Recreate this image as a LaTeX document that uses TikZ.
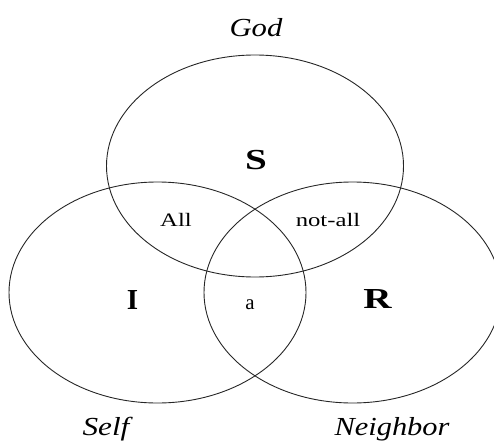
\documentclass[tikz,border=0pt]{standalone}
\usepackage{fontspec}
\setmainfont{Liberation Serif}
\begin{document}
\begin{tikzpicture}[x=1pt,y=-1pt,
  ring/.style={draw=black!85,line width=0.9pt},
  titlelbl/.style={anchor=base,inner sep=0pt,font=\fontsize{26}{28}\selectfont\itshape},
  biglbl/.style={anchor=base,inner sep=0pt,font=\fontsize{29}{31}\selectfont\bfseries},
  smalllbl/.style={anchor=base,inner sep=0pt,font=\fontsize{19}{21}\selectfont}]
\useasboundingbox (0,0) rectangle (494,441);
\begin{scope}
\clip (0,0) rectangle (494,441);
\draw[ring] (255,166) ellipse [x radius=148.5, y radius=111];
\draw[ring] (157.5,292.5) ellipse [x radius=148.5, y radius=110.5];
\draw[ring] (352.5,292.5) ellipse [x radius=148.5, y radius=110.5];
\end{scope}
\node[titlelbl] (god) at (256,36.5) {\scalebox{1.18}[1]{God}};
\node[titlelbl] (self) at (106,435.5) {\scalebox{1.2}[1]{Self}};
\node[titlelbl] (neighbor) at (392,435.5) {\scalebox{1.17}[1]{Neighbor}};
\node[biglbl] (s) at (256,169.5) {\scalebox{1.35}[1]{S}};
\node[biglbl] (i) at (132.5,309) {I};
\node[biglbl] (r) at (377.5,308) {\scalebox{1.35}[1]{R}};
\node[smalllbl] (all) at (176,226) {\scalebox{1.3}[1]{All}};
\node[smalllbl] (notall) at (328,226) {\scalebox{1.3}[1]{not-all}};
\node[smalllbl] (a) at (250,309) {\scalebox{1.1}{a}};
\end{tikzpicture}
\end{document}
